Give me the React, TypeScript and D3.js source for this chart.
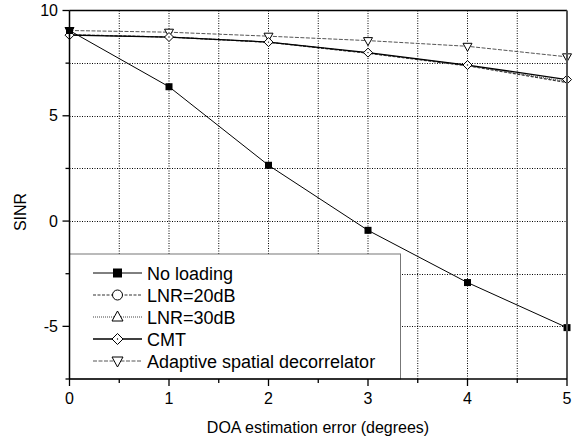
import * as d3 from "d3";
import React from "react";

// DOA estimation error (degrees)
const doaErrors = [0, 1, 2, 3, 4, 5];

// SINR values
const noLoading = [9.05, 6.38, 2.65, -0.44, -2.92, -5.06];
const lnr20 = [8.85, 8.74, 8.49, 7.97, 7.37, 6.58];
const lnr30 = [8.85, 8.74, 8.5, 7.98, 7.39, 6.63];
const cmt = [8.83, 8.74, 8.5, 8.0, 7.41, 6.72];
const decorrelator = [9.05, 8.97, 8.78, 8.57, 8.3, 7.8];

const yMajorTicks = [10, 5, 0, -5];
const yMinorTicks = [7.5, 2.5, -2.5, -7.5];
const xMajorTicks = [0, 1, 2, 3, 4, 5];
const xMinorTicks = [0.5, 1.5, 2.5, 3.5, 4.5];
const xGrid = [0.5, 1, 1.5, 2, 2.5, 3, 3.5, 4, 4.5];
const yGrid = [7.5, 5, 2.5, 0, -2.5, -5];

const seriesNames = [
  "No loading",
  "LNR=20dB",
  "LNR=30dB",
  "CMT",
  "Adaptive spatial decorrelator",
];

const font = "'Liberation Sans', Arial, sans-serif";

type Series = {
  name: string;
  values: number[];
  stroke: string;
  width: number;
  dash?: string;
  marker: string;
  showMarkers: boolean;
};

const series: Series[] = [
  { name: seriesNames[4], values: decorrelator, stroke: "#555", width: 1, dash: "4,1.5", marker: "tdown", showMarkers: true },
  { name: seriesNames[1], values: lnr20, stroke: "#333", width: 1.2, dash: "3,1.5", marker: "circle", showMarkers: false },
  { name: seriesNames[2], values: lnr30, stroke: "#444", width: 1, dash: "1,1", marker: "tup", showMarkers: false },
  { name: seriesNames[3], values: cmt, stroke: "#000", width: 1.3, marker: "diamond", showMarkers: true },
  { name: seriesNames[0], values: noLoading, stroke: "#000", width: 1, marker: "square", showMarkers: true },
];

const legendOrder = [4, 1, 2, 3, 0];

const Marker = ({ type, x, y, s = 4.5 }: { type: string; x: number; y: number; s?: number }) => {
  if (type === "square")
    return <rect x={x - s + 0.5} y={y - s + 0.5} width={2 * s - 1} height={2 * s - 1} fill="#000" />;
  if (type === "circle")
    return <circle cx={x} cy={y} r={s} fill="#fff" stroke="#000" strokeWidth={1} />;
  if (type === "diamond")
    return (
      <g>
        <path d={`M${x},${y - s - 0.5}L${x + s + 0.5},${y}L${x},${y + s + 0.5}L${x - s - 0.5},${y}Z`} fill="#fff" stroke="#000" strokeWidth={1} />
        <circle cx={x} cy={y} r={0.7} fill="#000" />
      </g>
    );
  if (type === "tup")
    return <path d={`M${x},${y - s - 1}L${x + s + 0.5},${y + s - 1}L${x - s - 0.5},${y + s - 1}Z`} fill="#fff" stroke="#000" strokeWidth={1} />;
  return <path d={`M${x},${y + s + 1}L${x + s + 0.5},${y - s + 1}L${x - s - 0.5},${y - s + 1}Z`} fill="#fff" stroke="#000" strokeWidth={1} />;
};

const App = () => {
  const width = 583;
  const height = 443;
  const left = 69.5;
  const right = 567;
  const top = 10.5;
  const bottom = 379;

  const xScale = d3.scaleLinear().domain([0, 5]).range([left, right]);
  const yScale = d3.scaleLinear().domain([-7.5, 10]).range([bottom, top]);

  const line = d3
    .line<number>()
    .x((_, i) => xScale(doaErrors[i]))
    .y((d) => yScale(d));

  const legendX = left;
  const legendY = 254;
  const legendW = 331;
  const legendH = bottom - legendY;

  return (
    <svg width={width} height={height} style={{ position: "absolute", left: 0, top: 0, background: "#fff" }}>
      {/* grid */}
      {xGrid.map((v) => (
        <line key={"gx" + v} x1={xScale(v)} x2={xScale(v)} y1={top} y2={bottom} stroke="#000" strokeWidth={1} strokeDasharray="1,1.5" />
      ))}
      {yGrid.map((v) => (
        <line key={"gy" + v} x1={left} x2={right} y1={Math.round(yScale(v)) + 0.5} y2={Math.round(yScale(v)) + 0.5} stroke="#000" strokeWidth={1} strokeDasharray="1,1.5" />
      ))}

      {/* series */}
      {series.map((s) => (
        <path key={s.name} d={line(s.values) ?? ""} fill="none" stroke={s.stroke} strokeWidth={s.width} strokeDasharray={s.dash} />
      ))}
      {series.map((s) =>
        s.showMarkers
          ? s.values.map((v, i) => <Marker key={s.name + i} type={s.marker} x={xScale(doaErrors[i])} y={yScale(v)} s={4} />)
          : null
      )}

      {/* legend */}
      <rect x={legendX} y={legendY} width={legendW} height={legendH} fill="#fff" stroke="#777" strokeWidth={1} />
      {legendOrder.map((idx, k) => {
        const s = series[idx];
        const y = 273 + k * 22;
        return (
          <g key={"lg" + k}>
            <line x1={93} x2={142} y1={y} y2={y} stroke={s.stroke} strokeWidth={s.width} strokeDasharray={s.dash} />
            <Marker type={s.marker} x={117.5} y={y} s={5} />
            <text x={147} y={y + 6.5} fontFamily={font} fontSize={18} fill="#000">
              {s.name}
            </text>
          </g>
        );
      })}

      {/* frame */}
      <line x1={left} x2={right} y1={top} y2={top} stroke="#000" strokeWidth={1.3} />
      <line x1={right} x2={right} y1={top} y2={bottom} stroke="#555" strokeWidth={2} />
      <line x1={left} x2={right} y1={bottom} y2={bottom} stroke="#000" strokeWidth={1.5} />
      <line x1={left} x2={left} y1={top} y2={bottom} stroke="#000" strokeWidth={1.5} />

      {/* y ticks */}
      {yMajorTicks.map((v) => (
        <g key={"yt" + v}>
          <line x1={left - 7} x2={left} y1={yScale(v)} y2={yScale(v)} stroke="#000" strokeWidth={1.3} />
          <text x={58} y={yScale(v) + 5.5} textAnchor="end" fontFamily={font} fontSize={16} fill="#000">
            {v}
          </text>
        </g>
      ))}
      {yMinorTicks.map((v) => (
        <line key={"ym" + v} x1={left - 4} x2={left} y1={yScale(v)} y2={yScale(v)} stroke="#000" strokeWidth={1.3} />
      ))}

      {/* x ticks */}
      {xMajorTicks.map((v) => (
        <g key={"xt" + v}>
          <line x1={xScale(v)} x2={xScale(v)} y1={bottom} y2={bottom + 7} stroke="#000" strokeWidth={1.3} />
          <text x={xScale(v)} y={404} textAnchor="middle" fontFamily={font} fontSize={16} fill="#000">
            {v}
          </text>
        </g>
      ))}
      {xMinorTicks.map((v) => (
        <line key={"xm" + v} x1={xScale(v)} x2={xScale(v)} y1={bottom} y2={bottom + 4} stroke="#000" strokeWidth={1.3} />
      ))}

      {/* axis titles */}
      <text x={318} y={433} textAnchor="middle" fontFamily={font} fontSize={16} fill="#000">
        DOA estimation error (degrees)
      </text>
      <text transform="translate(26,212) rotate(-90)" textAnchor="middle" fontFamily={font} fontSize={16} fill="#000">
        SINR
      </text>
    </svg>
  );
};

export default App;
